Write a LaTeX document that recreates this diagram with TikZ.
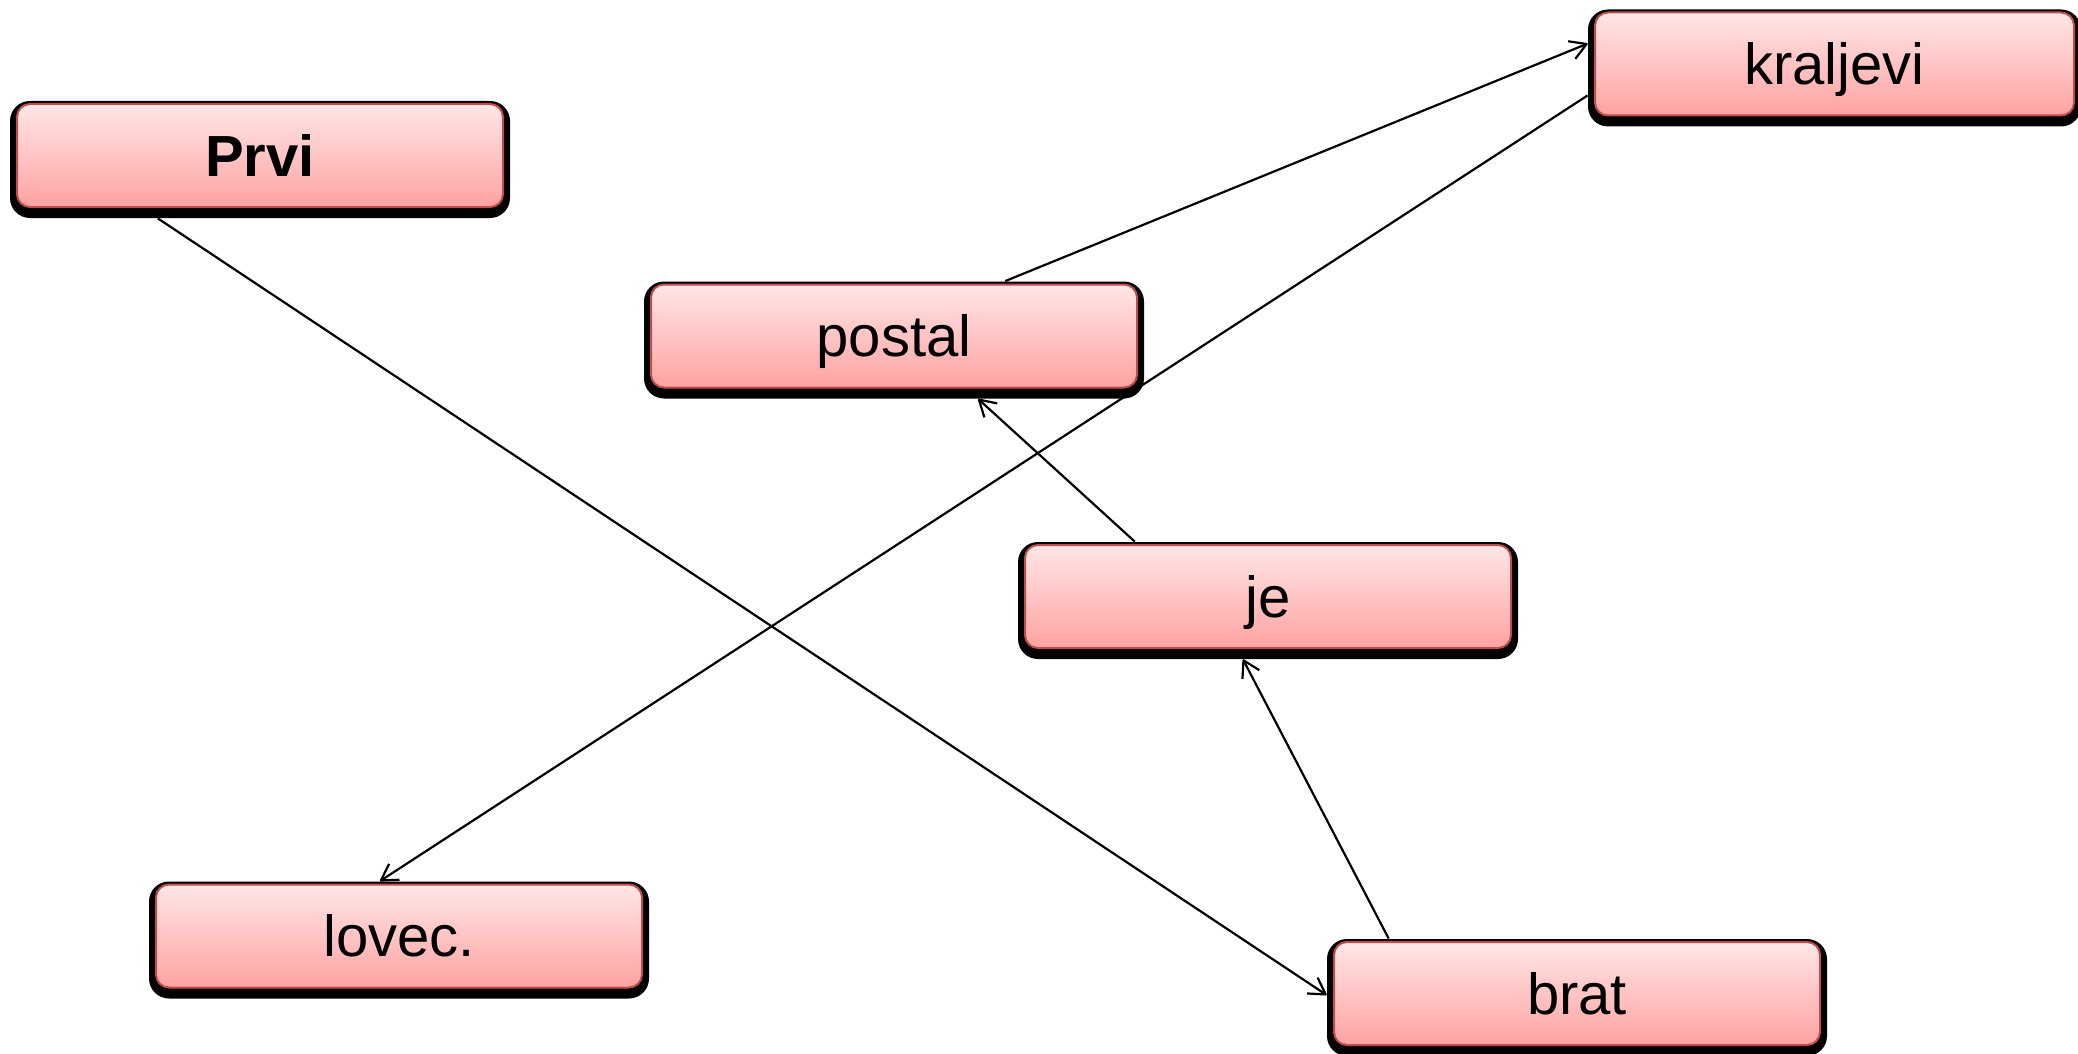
\documentclass[tikz,border=0pt]{standalone}
\usepackage{fontspec}
\setmainfont{Liberation Sans}
\usetikzlibrary{calc,arrows.meta}
\definecolor{boxtop}{RGB}{255,230,230}
\definecolor{boxbot}{RGB}{255,162,162}
\definecolor{boxline}{RGB}{190,78,76}
\tikzset{
  shd/.style={draw=none, fill=black, rounded corners=10pt, inner sep=0pt,
    minimum width=250pt, minimum height=58.5pt},
  wbox/.style={draw=boxline, line width=1pt, top color=boxtop, bottom color=boxbot,
    rounded corners=6.5pt, inner sep=0pt, minimum width=243pt, minimum height=51.5pt,
    font=\fontsize{29pt}{34pt}\selectfont, text height=20.9pt, text depth=0pt},
  conn/.style={draw=black, line width=1.1pt, -{Straight Barb[length=8pt,width=9.5pt,line join=round]}}
}
\begin{document}
\begin{tikzpicture}[x=0.5pt,y=-0.5pt]
\useasboundingbox (0,0) rectangle (2078,1054);
% shadows
\node[shd] (Prvi-s) at (260,159.5) {};
\node[shd, minimum width=246.5pt] (kraljevi-s) at (1834.5,68) {};
\node[shd] (postal-s) at (894,340) {};
\node[shd] (je-s) at (1268,600.5) {};
\node[shd] (lovec-s) at (399,940) {};
\node[shd] (brat-s) at (1577,997.5) {};
% boxes
\node[wbox] (Prvi) at ([yshift=2pt]Prvi-s.center) {\bfseries Prvi};
\node[wbox, minimum width=239.5pt] (kraljevi) at ([yshift=2pt]kraljevi-s.center) {kraljevi};
\node[wbox] (postal) at ([yshift=2pt]postal-s.center) {postal};
\node[wbox] (je) at ([yshift=2pt]je-s.center) {je};
\node[wbox] (lovec) at ([yshift=2pt]lovec-s.center) {lovec.};
\node[wbox] (brat) at ([yshift=2pt]brat-s.center) {brat};
% connectors
\draw[conn] ($(Prvi-s.south west)!0.296!(Prvi-s.south east)$) -- ($(brat-s.north west)!0.479!(brat-s.south west)$);
\draw[conn] ($(postal-s.north west)!0.722!(postal-s.north east)$) -- ($(kraljevi-s.north west)!0.293!(kraljevi-s.south west)$);
\draw[conn] ($(kraljevi-s.north west)!0.733!(kraljevi-s.south west)$) -- ($(lovec-s.north west)!0.462!(lovec-s.north east)$);
\draw[conn] ($(je-s.north west)!0.234!(je-s.north east)$) -- ($(postal-s.south west)!0.668!(postal-s.south east)$);
\draw[conn] ($(brat-s.north west)!0.124!(brat-s.north east)$) -- ($(je-s.south west)!0.45!(je-s.south east)$);
\end{tikzpicture}
\end{document}
